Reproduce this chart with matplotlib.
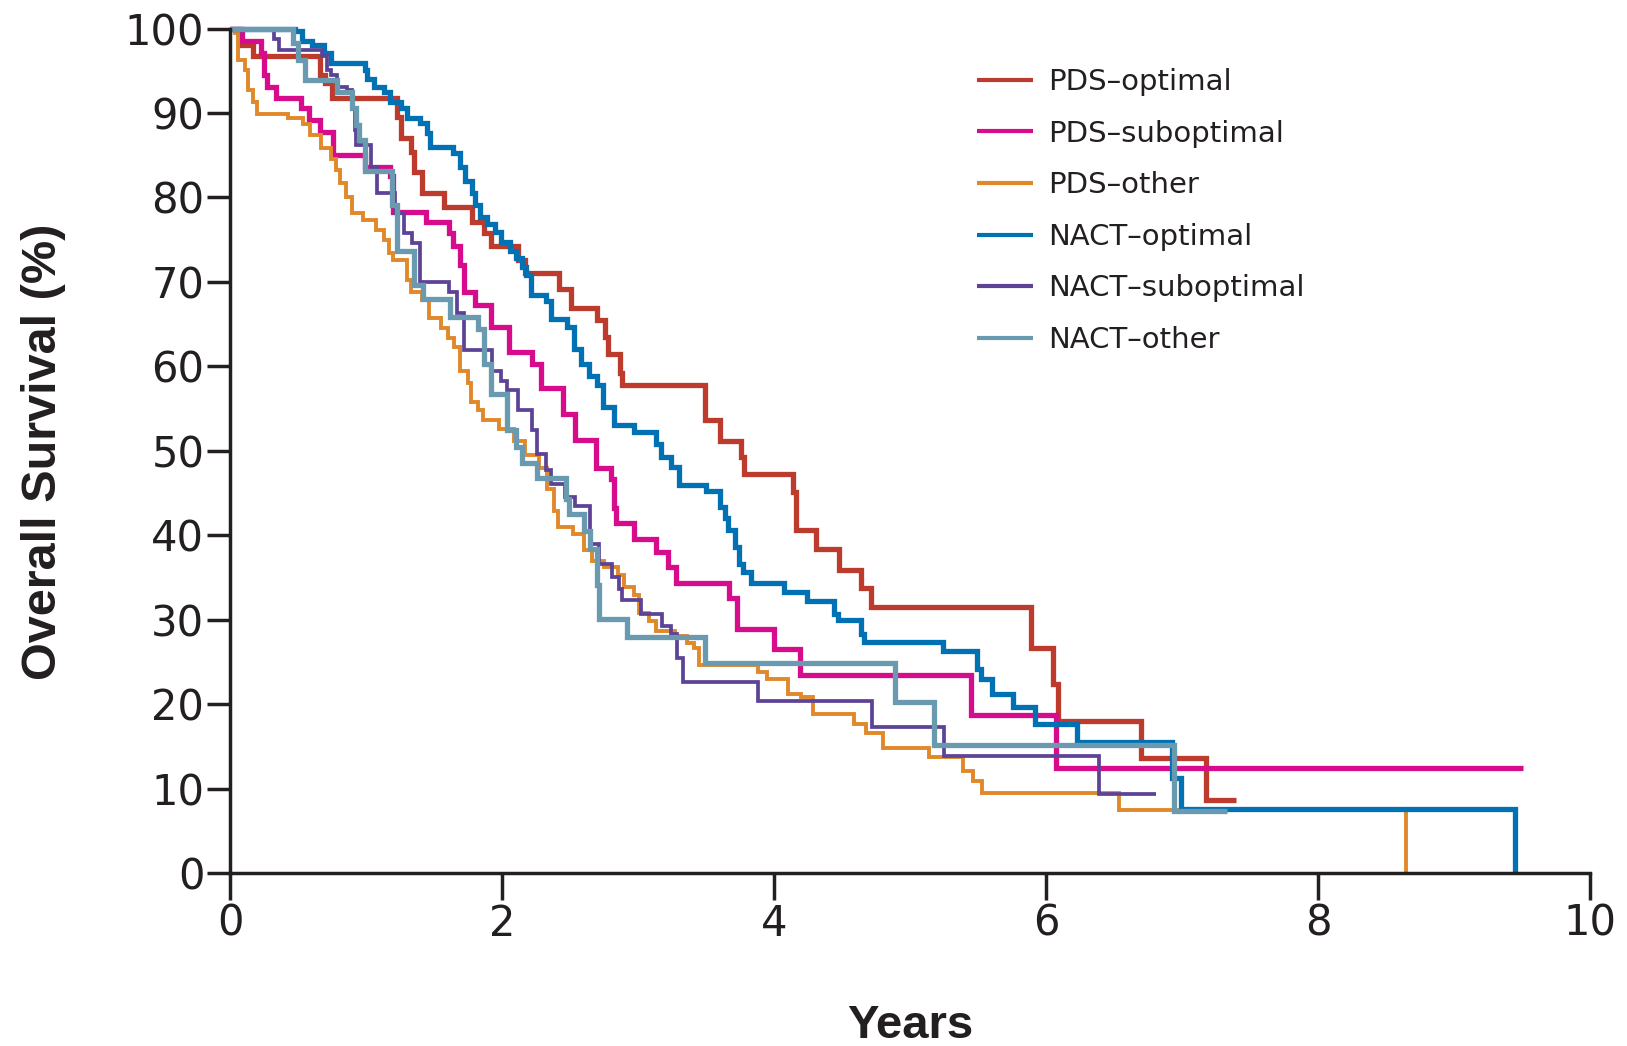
import matplotlib
matplotlib.use("Agg")
import matplotlib.pyplot as plt

labels = ["PDS\u2013optimal", "PDS\u2013suboptimal", "PDS\u2013other",
          "NACT\u2013optimal", "NACT\u2013suboptimal", "NACT\u2013other"]
colors = ["#BD3B2C", "#D70C8C", "#E0882A", "#0071B3", "#5C4396", "#6A9AB0"]
widths = [3.8, 3.8, 2.8, 3.8, 2.7, 3.8]

pds_opt_t = [0, 0.07, 0.17, 0.66, 0.70, 0.75, 1.23, 1.26, 1.33, 1.35, 1.41, 1.57, 1.78, 1.87, 1.92,
             2.12, 2.17, 2.42, 2.51, 2.70, 2.76, 2.78, 2.87, 2.88, 3.49, 3.60, 3.76, 3.78, 4.14, 4.16,
             4.31, 4.48, 4.64, 4.71, 5.89, 6.05, 6.09, 6.70, 7.18, 7.40]
pds_opt_s = [100, 98, 96.8, 94.5, 93.5, 91.8, 89.5, 87.0, 85.4, 83.0, 80.5, 78.9, 77.1, 75.8, 74.2,
             72.6, 71.0, 69.2, 66.9, 65.5, 63.5, 61.5, 59.2, 57.8, 53.6, 51.2, 49.3, 47.3, 45.1, 40.6,
             38.4, 35.9, 33.7, 31.5, 26.7, 22.4, 18.0, 13.6, 8.7, 8.7]

pds_sub_t = [0, 0.09, 0.23, 0.25, 0.27, 0.34, 0.52, 0.58, 0.66, 0.76, 0.99, 1.18, 1.20, 1.44, 1.61,
             1.64, 1.69, 1.72, 1.80, 1.92, 2.05, 2.22, 2.29, 2.45, 2.54, 2.69, 2.80, 2.82, 2.84, 2.97,
             3.13, 3.22, 3.28, 3.67, 3.73, 4.00, 4.19, 5.45, 6.07, 9.51]
pds_sub_s = [100, 98.5, 97.1, 94.5, 93.1, 91.8, 90.6, 89.2, 87.8, 85.0, 83.6, 82.5, 78.3, 77.1, 75.8,
             74.2, 72.0, 68.8, 67.3, 64.7, 61.7, 60.3, 57.4, 54.4, 51.3, 47.9, 46.6, 43.2, 41.4, 39.6,
             38.0, 36.2, 34.3, 32.6, 28.9, 26.5, 23.5, 18.7, 12.4, 12.4]

pds_oth_t = [0, 0.04, 0.06, 0.11, 0.13, 0.17, 0.20, 0.43, 0.54, 0.59, 0.67, 0.74, 0.78, 0.81, 0.85,
             0.90, 0.98, 1.07, 1.13, 1.17, 1.20, 1.30, 1.33, 1.41, 1.46, 1.55, 1.60, 1.65, 1.69, 1.75,
             1.77, 1.82, 1.86, 1.98, 2.09, 2.17, 2.27, 2.33, 2.38, 2.41, 2.52, 2.60, 2.66, 2.75, 2.85,
             2.90, 2.97, 3.01, 3.08, 3.13, 3.27, 3.36, 3.41, 3.45, 3.88, 3.95, 4.10, 4.20, 4.29, 4.59,
             4.68, 4.80, 5.14, 5.39, 5.46, 5.53, 6.54, 8.65]
pds_oth_s = [100, 99.5, 96.3, 95.1, 92.7, 91.3, 89.9, 89.4, 88.7, 87.4, 85.8, 84.5, 83.3, 81.7, 80.1,
             78.1, 77.3, 76.1, 74.9, 73.4, 72.6, 70.2, 68.8, 67.9, 65.7, 64.5, 63.3, 62.3, 59.4, 58.0,
             55.8, 54.8, 53.6, 52.6, 51.2, 49.5, 47.9, 45.5, 42.9, 41.0, 40.2, 38.2, 37.0, 36.2, 35.3,
             33.9, 32.9, 30.8, 29.8, 28.6, 28.1, 27.2, 26.7, 24.6, 23.8, 23.0, 21.2, 20.8, 18.8, 17.6,
             16.6, 14.8, 13.7, 12.1, 10.9, 9.5, 7.5, 0]

nact_opt_t = [0, 0.48, 0.53, 0.60, 0.69, 0.74, 0.99, 1.01, 1.06, 1.13, 1.18, 1.26, 1.30, 1.40, 1.45,
              1.47, 1.64, 1.69, 1.73, 1.78, 1.80, 1.84, 1.89, 1.95, 1.99, 2.06, 2.10, 2.15, 2.18, 2.21,
              2.32, 2.36, 2.48, 2.53, 2.58, 2.64, 2.70, 2.74, 2.82, 2.97, 3.13, 3.17, 3.24, 3.30, 3.50,
              3.60, 3.64, 3.66, 3.71, 3.74, 3.77, 3.83, 4.07, 4.24, 4.44, 4.47, 4.64, 4.66, 5.24, 5.49,
              5.52, 5.60, 5.76, 5.92, 6.23, 6.93, 6.99, 9.45]
nact_opt_s = [100, 99.7, 98.5, 98.0, 97.1, 95.9, 95.1, 94.0, 93.1, 92.5, 91.3, 90.6, 89.4, 88.8, 87.6,
              86.0, 85.2, 83.6, 82.0, 80.5, 79.1, 77.7, 76.9, 75.9, 74.7, 73.7, 72.8, 71.8, 70.8, 68.5,
              67.7, 65.6, 64.7, 62.1, 60.3, 58.9, 57.8, 55.2, 53.0, 52.2, 50.8, 49.3, 48.1, 45.9, 45.2,
              43.3, 42.0, 40.6, 38.6, 36.6, 35.6, 34.3, 33.3, 32.2, 30.7, 29.9, 28.3, 27.4, 26.3, 24.2,
              23.0, 21.2, 19.7, 17.6, 15.5, 11.3, 7.6, 0]

nact_sub_t = [0, 0.32, 0.36, 0.68, 0.71, 0.74, 0.79, 0.86, 0.90, 0.92, 0.93, 1.04, 1.08, 1.21, 1.28,
              1.34, 1.40, 1.61, 1.67, 1.72, 1.93, 1.99, 2.04, 2.12, 2.22, 2.26, 2.32, 2.36, 2.46, 2.54,
              2.65, 2.71, 2.81, 2.86, 2.88, 3.02, 3.18, 3.24, 3.29, 3.33, 3.88, 4.72, 5.25, 6.39, 6.81]
nact_sub_s = [100, 98.8, 97.5, 96.7, 95.1, 94.5, 93.1, 92.7, 90.6, 88.0, 86.2, 83.6, 80.5, 78.1, 75.8,
              74.6, 70.0, 68.8, 66.3, 61.9, 59.5, 58.3, 57.2, 54.8, 52.4, 49.6, 47.7, 46.1, 44.5, 43.4,
              39.0, 36.6, 35.0, 33.6, 32.3, 30.7, 29.3, 28.3, 25.5, 22.6, 20.4, 17.3, 13.8, 9.3, 9.3]

nact_oth_t = [0, 0.46, 0.50, 0.55, 0.79, 0.90, 0.93, 0.95, 0.99, 1.19, 1.23, 1.35, 1.42, 1.62, 1.82,
              1.87, 1.92, 2.04, 2.10, 2.15, 2.26, 2.47, 2.49, 2.60, 2.65, 2.70, 2.71, 2.92, 3.49, 4.89,
              5.18, 6.94, 7.33]
nact_oth_s = [100, 98.3, 96.3, 93.9, 92.5, 90.6, 88.6, 86.8, 83.1, 79.1, 73.7, 69.6, 68.0, 65.8, 64.4,
              60.3, 56.7, 52.4, 50.4, 48.6, 46.8, 44.3, 42.5, 40.5, 38.4, 34.1, 30.1, 28.0, 24.9, 20.2,
              15.1, 7.3, 7.3]

times = [pds_opt_t, pds_sub_t, pds_oth_t, nact_opt_t, nact_sub_t, nact_oth_t]
surv = [pds_opt_s, pds_sub_s, pds_oth_s, nact_opt_s, nact_sub_s, nact_oth_s]

xticks = [0, 2, 4, 6, 8, 10]
yticks = [0, 10, 20, 30, 40, 50, 60, 70, 80, 90, 100]

ink = "#231F20"
fig = plt.figure(figsize=(16.27, 10.46), dpi=100)
ax = fig.add_axes([0.14137, 0.16539, 0.83589, 0.80736])

for t, s, c, w, lab in zip(times, surv, colors, widths, labels):
    ax.step(t, s, where="post", color=c, lw=w, label=lab, clip_on=False,
            solid_joinstyle="miter", solid_capstyle="butt")

ax.set_xlim(0, 10)
ax.set_ylim(0, 100)
ax.set_xticks(xticks)
ax.set_yticks(yticks)
for side in ["top", "right"]:
    ax.spines[side].set_visible(False)
for side in ["left", "bottom"]:
    ax.spines[side].set_linewidth(2.5)
    ax.spines[side].set_color(ink)
ax.tick_params(axis="y", length=16.5, width=2.5, pad=2, labelsize=30, colors=ink)
ax.tick_params(axis="x", length=19.4, width=2.5, pad=2, labelsize=30, colors=ink)

fig.text(0.027, 0.568, "Overall Survival (%)", rotation=90, ha="center", va="center",
         family="Liberation Sans", weight="bold", fontsize=35, color=ink)
fig.text(0.5593, 0.0076, "Years", ha="center", va="baseline",
         family="Liberation Sans", weight="bold", fontsize=34, color=ink)

leg = ax.legend(loc="upper left", bbox_to_anchor=(0.6005, 0.9350), bbox_transform=fig.transFigure,
                frameon=False, borderpad=0, borderaxespad=0, fontsize=21, handlelength=1.92,
                handletextpad=0.51, labelspacing=0.81)
for line in leg.get_lines():
    line.set_linewidth(3)
for txt in leg.get_texts():
    txt.set_color(ink)

fig.savefig("out.png", dpi=100)
